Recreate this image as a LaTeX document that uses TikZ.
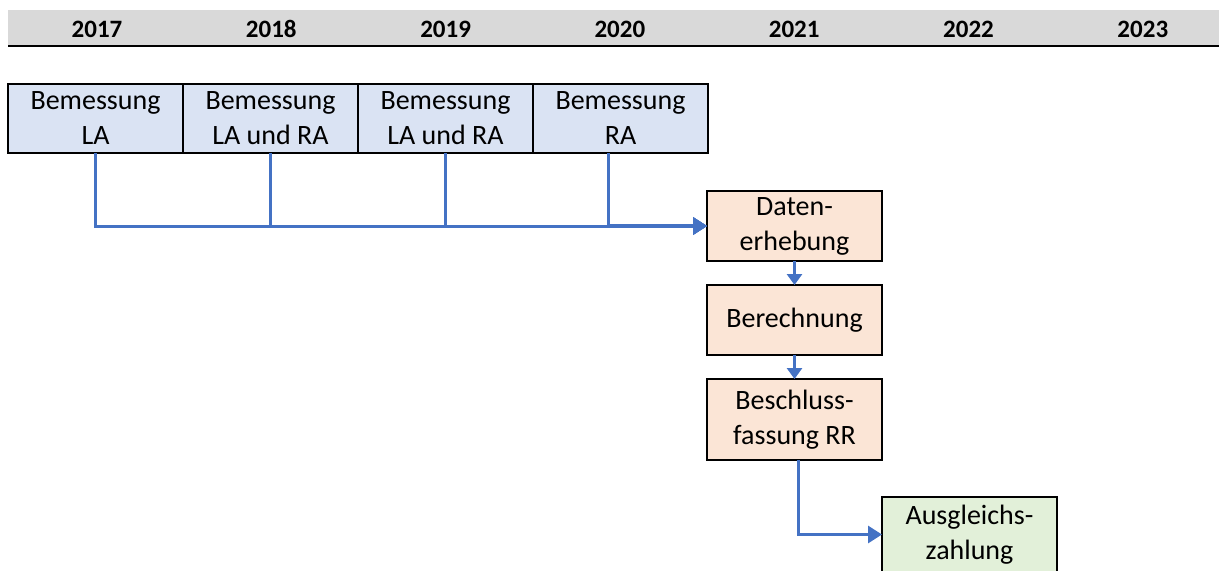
\documentclass[tikz,border=0pt]{standalone}
\usepackage{fontspec}
\setmainfont{Carlito}
\usetikzlibrary{positioning,arrows.meta}

\definecolor{lineblue}{HTML}{4472C4}
\definecolor{bluefill}{HTML}{DAE3F3}
\definecolor{orangefill}{HTML}{FBE5D6}
\definecolor{greenfill}{HTML}{E2F0D9}
\definecolor{bandgray}{HTML}{D9D9D9}

\tikzset{
  box/.style={draw, line width=1pt, minimum width=87.5pt, minimum height=34.5pt,
    inner sep=0pt, outer sep=0pt, align=center, font=\fontsize{14}{17.5}\selectfont},
  year/.style={font=\fontsize{12.5}{15}\selectfont\bfseries},
  flow/.style={draw=lineblue, line width=1.5pt, -{Triangle[length=7pt,width=8.5pt]}},
  shortflow/.style={draw=lineblue, line width=1.5pt, -{Triangle[length=5.5pt,width=7.5pt]}}
}

\begin{document}
\begin{tikzpicture}[x=0.5pt, y=-0.5pt, node distance=12pt]
\path[use as bounding box, clip] (0,0) rectangle (1219,570);

% timeline header
\fill[bandgray] (8,10) rectangle (1219,46);
\draw[line width=1pt] (8,46) -- (1219,46);
\foreach \yr [count=\i from 0] in {2017,...,2023}
  \node[year] (y\yr) at (97+174.3*\i, 29) {\yr};

% assessments
\node[box, fill=bluefill, anchor=north west] (bLA) at (8,84)  {Bemessung\\LA};
\node[box, fill=bluefill, right=0pt of bLA]   (bLARAa)          {Bemessung\\LA und RA};
\node[box, fill=bluefill, right=0pt of bLARAa] (bLARAb)         {Bemessung\\LA und RA};
\node[box, fill=bluefill, right=0pt of bLARAb] (bRA)            {Bemessung\\RA};

% process
\node[box, fill=orangefill, anchor=north west, minimum height=35pt] (daten) at (707,191) {Daten-\\erhebung};
\node[box, fill=orangefill, below=of daten, minimum height=35pt]    (rechnung)          {Berechnung};
\node[box, fill=orangefill, below=of rechnung, minimum height=40.5pt] (beschluss)       {Beschluss-\\fassung RR};
\node[box, fill=greenfill, anchor=north west, minimum height=37.5pt] (zahlung) at (882,497) {Ausgleichs-\\zahlung};

\path[flow]
      (bLA.south)                  |- (daten.west);
\path[flow]
      (bLARAa.south)               |- (daten.west);
\path[flow]
      (bLARAb.south)               |- (daten.west);
\path[flow]
      ([xshift=-6pt]bRA.south)     |- (daten.west);
\path[flow, line width=2.3pt]
      (daten.west -| bRA.south) ++(-6pt,0) -- (daten.west);
\path[shortflow] (daten.south)    -- (rechnung.north);
\path[shortflow] (rechnung.south) -- (beschluss.north);
\path[flow] ([xshift=2pt]beschluss.south) |- (zahlung.west);
\end{tikzpicture}
\end{document}
